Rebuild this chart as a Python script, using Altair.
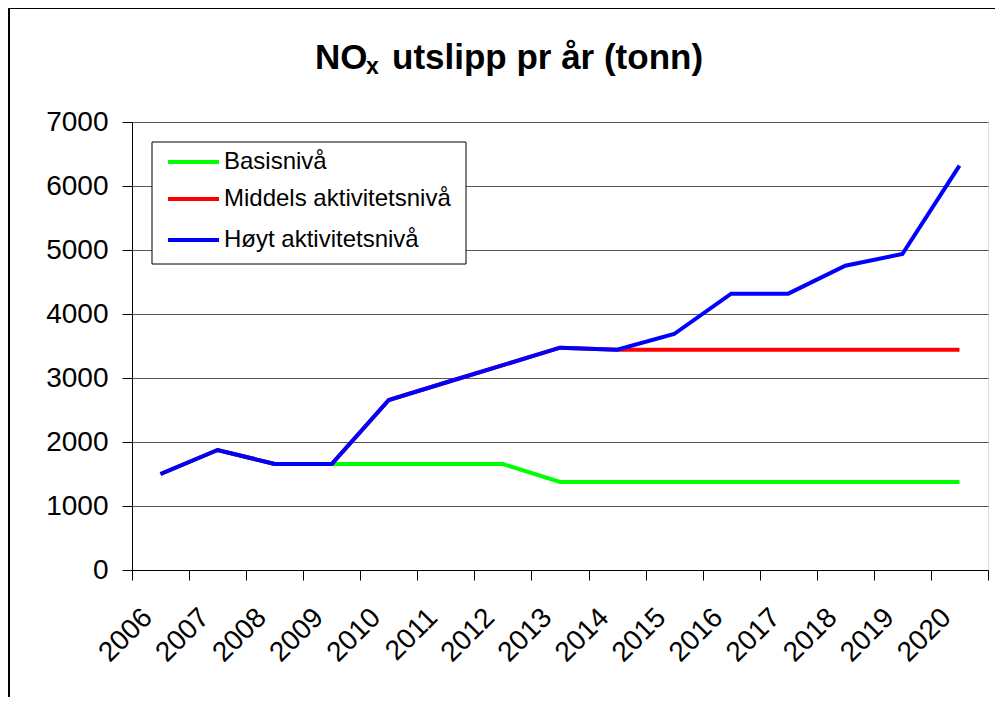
import altair as alt
import pandas as pd

years = ["2006", "2007", "2008", "2009", "2010", "2011", "2012", "2013",
         "2014", "2015", "2016", "2017", "2018", "2019", "2020"]
basis = [1500, 1875, 1656, 1656, 1656, 1656, 1656, 1375,
         1375, 1375, 1375, 1375, 1375, 1375, 1375]
middels = [1500, 1875, 1656, 1656, 2656, 2930, 3200, 3474,
           3443, 3443, 3443, 3443, 3443, 3443, 3443]
hoyt = [1500, 1875, 1656, 1656, 2656, 2930, 3200, 3474,
        3443, 3687, 4318, 4318, 4755, 4937, 6318]
series_names = ["Basisnivå", "Middels aktivitetsnivå", "Høyt aktivitetsnivå"]
series_colors = ["#00FF00", "#FF0000", "#0000FF"]
y_ticks = [0, 1000, 2000, 3000, 4000, 5000, 6000, 7000]

rows = []
for name, vals in zip(series_names, [basis, middels, hoyt]):
    for yr, v in zip(years, vals):
        rows.append({"year": yr, "value": v, "series": name})
df = pd.DataFrame(rows)

FONT = "Liberation Sans"

x_enc = alt.X(
    "year:N",
    sort=years,
    scale=alt.Scale(type="band", paddingInner=0, paddingOuter=0),
    axis=alt.Axis(
        title=None, labelAngle=-45, labelAlign="right", labelBaseline="middle",
        labelFontSize=28, labelFont=FONT, labelColor="black",
        labelPadding=33, labelOffset=-13,
        tickBand="extent", tickSize=10, tickColor="black",
        domainColor="black", grid=False,
    ),
)
y_enc = alt.Y(
    "value:Q",
    scale=alt.Scale(domain=[0, 7000], nice=False),
    axis=alt.Axis(
        title=None, values=y_ticks, format="d", labelFontSize=28, labelFont=FONT,
        labelColor="black", labelPadding=14, tickSize=10, tickColor="black",
        domainColor="black", gridColor="#555555", gridWidth=1,
    ),
)
color_enc = alt.Color(
    "series:N",
    scale=alt.Scale(domain=series_names, range=series_colors),
    legend=None,
)

def series_layer(name):
    return (
        alt.Chart(df)
        .transform_filter(alt.datum.series == name)
        .mark_line(strokeWidth=4)
        .encode(x=x_enc, y=y_enc, color=color_enc)
    )

layers = [series_layer(n) for n in series_names]

one = pd.DataFrame({"a": [0]})

frame = alt.Chart(one).mark_rect(
    fill="transparent", stroke="black", strokeWidth=2
).encode(
    x=alt.value(-123), x2=alt.value(1000), y=alt.value(-114), y2=alt.value(700)
)

# Legend (drawn manually to match the compact Excel-style box)
legend_box = alt.Chart(one).mark_rect(
    fill="white", stroke="black", strokeWidth=1
).encode(x=alt.value(20), x2=alt.value(334), y=alt.value(20), y2=alt.value(142))

legend_rows = [40, 77, 118]
legend_layers = []
for name, col, ry in zip(series_names, series_colors, legend_rows):
    ld = pd.DataFrame({"series": [name]})
    legend_layers.append(
        alt.Chart(ld).mark_rule(strokeWidth=4).encode(
            x=alt.value(36), x2=alt.value(87), y=alt.value(ry), color=alt.value(col)
        )
    )
    legend_layers.append(
        alt.Chart(ld).mark_text(
            font=FONT, fontSize=24, align="left", baseline="middle", color="black"
        ).encode(x=alt.value(92), y=alt.value(ry), text="series:N")
    )

t1 = alt.Chart(pd.DataFrame({"t": ["NO"]})).mark_text(
    font=FONT, fontWeight="bold", fontSize=35, align="left",
    baseline="alphabetic", color="black"
).encode(x=alt.value(183), y=alt.value(-53), text="t:N")
t2 = alt.Chart(pd.DataFrame({"t": ["x"]})).mark_text(
    font=FONT, fontWeight="bold", fontSize=23, align="left",
    baseline="alphabetic", color="black"
).encode(x=alt.value(234), y=alt.value(-48), text="t:N")
t3 = alt.Chart(pd.DataFrame({"t": ["utslipp pr år (tonn)"]})).mark_text(
    font=FONT, fontWeight="bold", fontSize=35, align="left",
    baseline="alphabetic", color="black"
).encode(x=alt.value(260), y=alt.value(-53), text="t:N")

chart = (
    alt.layer(frame, *layers, legend_box, *legend_layers, t1, t2, t3)
    .properties(
        width=856, height=448,
        autosize=alt.AutoSizeParams(type="none"),
        padding={"left": 124, "top": 114, "right": 7, "bottom": 127},
        background="white",
    )
    .configure_view(stroke="#888888", strokeWidth=2)
    .configure(font=FONT)
)

chart.save("out.html", embed_options={"renderer": "svg", "actions": False})
